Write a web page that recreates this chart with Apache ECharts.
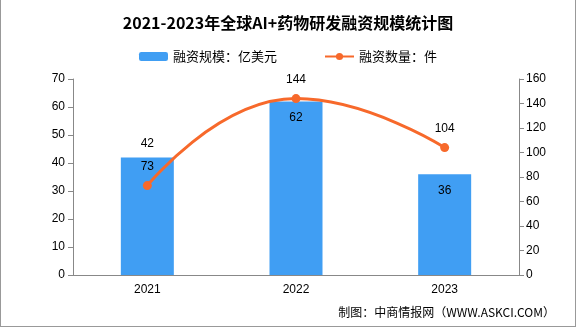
<!DOCTYPE html>
<html><head><meta charset="utf-8">
<script src="https://cdn.jsdelivr.net/npm/echarts@6/dist/echarts.min.js"></script>
<style>html,body{margin:0;padding:0;background:#fff}
#c{width:576px;height:327px;box-sizing:border-box;border-left:1px solid #999;border-right:1px solid #999;border-bottom:1px solid #999}</style>
</head><body><div id="c"></div>
<script>
var categories = ['2021', '2022', '2023'];
var fundingScale = [42, 62, 36];
var fundingCount = [73, 144, 104];
var leftTicks = [0, 70, 10];
var rightTicks = [0, 160, 20];

var chart = echarts.init(document.getElementById('c'));
var CJK = '"Noto Sans CJK SC", sans-serif';
var lbl = {fontSize: 12, color: '#000', fontFamily: 'Arial, "Liberation Sans", sans-serif'};
chart.setOption({
  animation: false,
  textStyle: {fontFamily: CJK},
  title: {
    text: '2021-2023年全球AI+药物研发融资规模统计图',
    left: 'center', top: 10,
    textStyle: {fontSize: 16, fontWeight: 'bold', color: '#000', fontFamily: CJK}
  },
  legend: {
    top: 45, left: 'center', itemGap: 47, itemWidth: 29, itemHeight: 9,
    textStyle: {fontSize: 13, color: '#000', fontFamily: CJK},
    data: ['融资规模：亿美元', '融资数量：件']
  },
  grid: {left: 72, right: 56, top: 79, bottom: 51},
  xAxis: {
    type: 'category', data: categories,
    axisLine: {lineStyle: {color: '#888'}},
    axisTick: {lineStyle: {color: '#888'}, length: 5},
    axisLabel: {color: '#000', fontSize: 12, margin: 9, fontFamily: lbl.fontFamily}
  },
  yAxis: [
    {type: 'value', min: leftTicks[0], max: leftTicks[1], interval: leftTicks[2],
     splitLine: {show: false},
     axisLine: {show: true, lineStyle: {color: '#888'}},
     axisTick: {show: true, length: 5, lineStyle: {color: '#888'}},
     axisLabel: {color: '#000', fontSize: 12, margin: 8, fontFamily: lbl.fontFamily}},
    {type: 'value', min: rightTicks[0], max: rightTicks[1], interval: rightTicks[2],
     splitLine: {show: false},
     axisLine: {show: true, lineStyle: {color: '#888'}},
     axisTick: {show: true, length: 5, lineStyle: {color: '#888'}},
     axisLabel: {color: '#000', fontSize: 12, margin: 7, fontFamily: lbl.fontFamily}}
  ],
  graphic: [{
    type: 'text', right: 20, top: 306,
    style: {text: '制图：中商情报网（WWW.ASKCI.COM）', fontSize: 12, fill: '#000', fontFamily: CJK}
  }],
  series: [
    {name: '融资规模：亿美元', type: 'bar', yAxisIndex: 0, barWidth: 53,
     itemStyle: {color: '#409EF3'},
     data: fundingScale.map(function (v, i) {
       return {value: v, label: {position: i === 0 ? 'top' : 'insideTop', distance: i === 0 ? 8 : 10}};
     }),
     label: Object.assign({show: true}, lbl)},
    {name: '融资数量：件', type: 'line', yAxisIndex: 1, smooth: true,
     symbol: 'circle', symbolSize: 9,
     lineStyle: {color: '#F7692B', width: 3},
     itemStyle: {color: '#F7692B'},
     data: fundingCount,
     label: Object.assign({show: true, position: 'top', distance: 8}, lbl)}
  ]
});
</script></body></html>
